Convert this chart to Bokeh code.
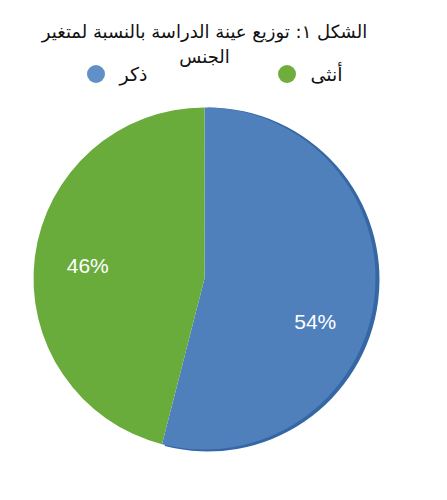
import math
from bokeh.plotting import figure
from bokeh.models import Range1d, Legend, LegendItem, ColumnDataSource, Label
from bokeh.embed import file_html
from bokeh.resources import INLINE
from bokeh.core.properties import value

# ---- data ----
title_lines = ["الشكل ١: توزيع عينة الدراسة بالنسبة لمتغير", "الجنس"]
categories = ["ذكر", "أنثى"]
percents = [54, 46]
colors = ["#4f80bc", "#6aac3b"]
legend_colors = ["#6190c6", "#6fae3c"]
edge_color = "#3467a3"

# ---- layout (1 data unit = 1 pixel; y measured upward from page bottom) ----
W, H = 431, 484
PAGE_H = 500
CX, CY = 204, PAGE_H - 278
R = 171
LABEL_SHIFT = [(-8, -28), (2, -2)]   # perspective nudges for the percent labels (px)

p = figure(width=W, height=H, output_backend="svg", toolbar_location=None,
           x_range=Range1d(0, W), y_range=Range1d(PAGE_H - H, PAGE_H),
           min_border=0, outline_line_color=None, background_fill_color="white",
           border_fill_color="white")
p.axis.visible = False
p.grid.visible = False

# wedge angles from the data, clockwise from 12 o'clock
total = float(sum(percents))
starts, ends, mids = [], [], []
acc = 0.0
for v in percents:
    a0 = math.pi / 2 - 2 * math.pi * acc / total
    acc += v
    a1 = math.pi / 2 - 2 * math.pi * acc / total
    starts.append(a0)
    ends.append(a1)
    mids.append((a0 + a1) / 2)

src = ColumnDataSource(dict(cat=categories, val=percents, color=colors,
                            start=starts, end=ends))

# darker rim (3D edge) behind the first slice
p.wedge(x=CX + 3, y=CY - 1, radius=R + 1, start_angle=starts[0], end_angle=ends[0],
        direction="clock", fill_color=edge_color, line_color=None)

p.wedge(x=CX, y=CY, radius=R, start_angle="start", end_angle="end",
        direction="clock", fill_color="color", line_color=None, source=src)

# percent labels
LR = 0.70 * R
lab_src = ColumnDataSource(dict(
    x=[CX + LR * math.cos(m) + s[0] for m, s in zip(mids, LABEL_SHIFT)],
    y=[CY + LR * math.sin(m) + s[1] for m, s in zip(mids, LABEL_SHIFT)],
    text=[f"{v}%" for v in percents]))
p.text(x="x", y="y", text="text", source=lab_src, text_color="white",
       text_font=value("Liberation Sans"), text_font_size="21px",
       text_align="center", text_baseline="middle")

# title
for txt, base in zip(title_lines, [31, 56]):
    p.add_layout(Label(x=204, y=PAGE_H - base, text=txt, text_align="center",
                       text_baseline="alphabetic", text_font="DejaVu Sans",
                       text_font_size="18px", text_color="#111111"))

# legend (legend-only markers placed outside the visible range)
items = []
for c, col in zip(categories, legend_colors):
    r = p.scatter(x=[-1000], y=[-1000], marker="circle", size=18,
                  fill_color=col, line_color=None)
    items.append(LegendItem(label=c, renderers=[r]))
legend = Legend(items=items, orientation="horizontal", location=(72.5, 388),
                spacing=116, padding=0, margin=0, glyph_width=45, glyph_height=45,
                label_standoff=2, label_text_font="DejaVu Sans",
                label_text_font_size="19px", label_text_color="#111111",
                border_line_alpha=0, background_fill_alpha=0)
p.add_layout(legend)

open("out.html", "w").write(file_html(p, INLINE))
